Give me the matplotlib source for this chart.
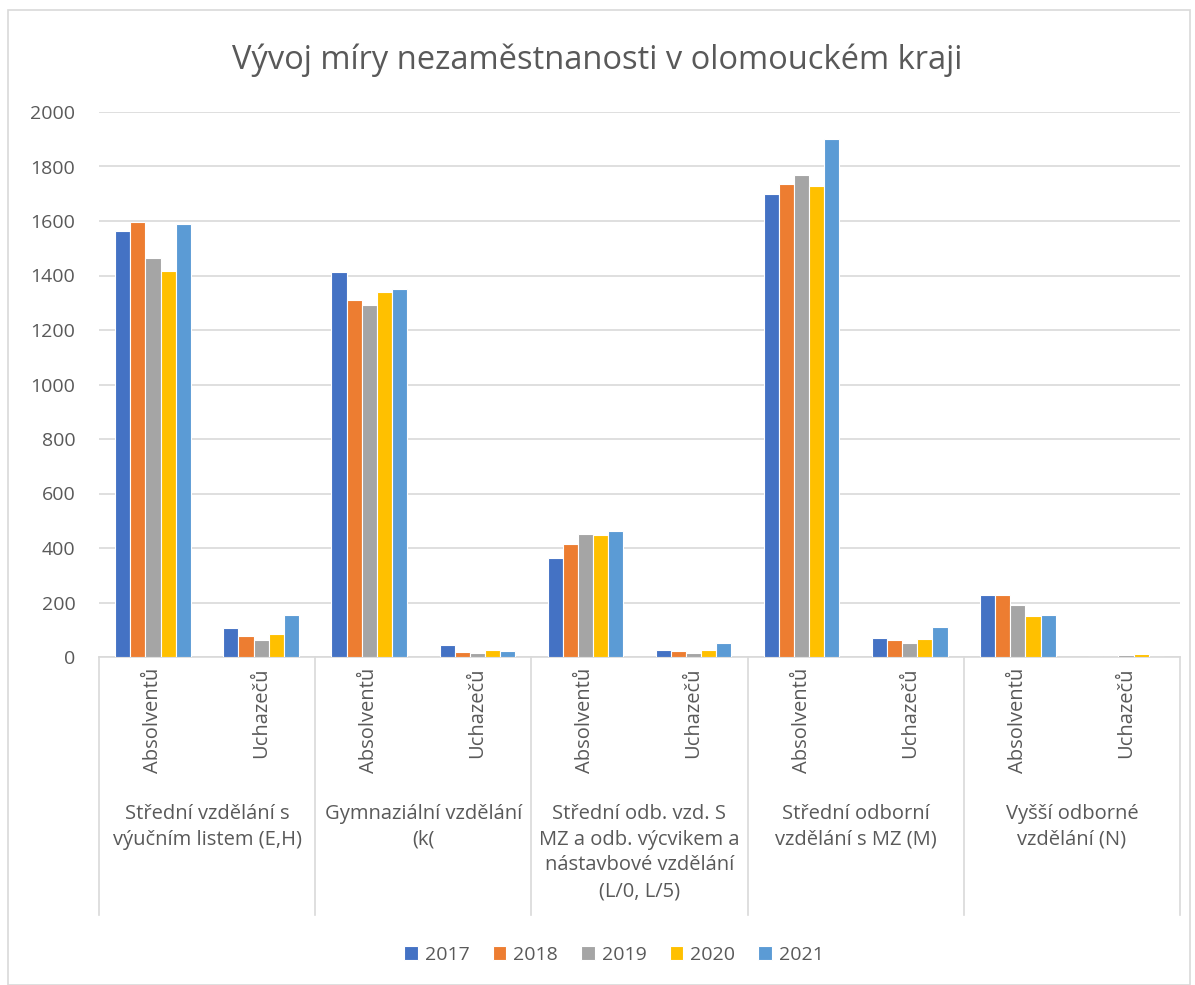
import matplotlib
matplotlib.use("Agg")
import matplotlib.pyplot as plt
from matplotlib.patches import Rectangle
from matplotlib.transforms import blended_transform_factory
import numpy as np

plt.rcParams['font.family'] = ['Open Sans', 'DejaVu Sans']

title = "Vývoj míry nezaměstnanosti v olomouckém kraji"
groups = ["Střední vzdělání s\nvýučním listem (E,H)",
          "Gymnaziální vzdělání\n(k(",
          "Střední odb. vzd. S\nMZ a odb. výcvikem a\nnástavbové vzdělání\n(L/0, L/5)",
          "Střední odborní\nvzdělání s MZ (M)",
          "Vyšší odborné\nvzdělání (N)"]
subcats = ["Absolventů", "Uchazečů"]
years = ["2017", "2018", "2019", "2020", "2021"]
colors = ["#4472C4", "#ED7D31", "#A5A5A5", "#FFC000", "#5B9BD5"]

v2017 = [1564, 105, 1412, 44, 362, 24, 1700, 71, 226, 0]
v2018 = [1596, 77, 1309, 18, 415, 21, 1736, 62, 227, 0]
v2019 = [1464, 64, 1292, 16, 453, 15, 1770, 51, 192, 7]
v2020 = [1415, 84, 1338, 27, 448, 27, 1728, 66, 149, 11]
v2021 = [1588, 153, 1350, 22, 463, 53, 1900, 109, 154, 0]
series = [v2017, v2018, v2019, v2020, v2021]

W, H = 1195, 985
fig = plt.figure(figsize=(W/100, H/100), dpi=100)
left, right, top, bottom = 99, 1180, 112, 657
ax = fig.add_axes([left/W, 1-bottom/H, (right-left)/W, (bottom-top)/H])

n = len(v2017)
x = np.arange(n)
bw = 0.14
for i, (vals, c, yr) in enumerate(zip(series, colors, years)):
    ax.bar(x + (i-2)*bw, vals, width=bw, color=c, edgecolor='white', linewidth=0.8, label=yr, zorder=3)

ax.set_xlim(-0.5, n-0.5)
ax.set_ylim(0, 2000)
ax.set_yticks(np.arange(0, 2001, 200))
ax.yaxis.grid(True, color='#D9D9D9', linewidth=1.2, zorder=0)
ax.set_axisbelow(True)
for s in ['top', 'right', 'left']:
    ax.spines[s].set_visible(False)
ax.spines['bottom'].set_color('#D9D9D9')
ax.spines['bottom'].set_linewidth(1.2)
ax.tick_params(axis='y', length=0, labelsize=14, labelcolor='#595959', pad=17)
ax.tick_params(axis='x', length=0, labelbottom=False)

# multi-level category labels
trans = blended_transform_factory(ax.transData, ax.transAxes)
ax_h = bottom - top
def yfrac(py):
    return (bottom - py) / ax_h

for xi in range(n):
    ax.text(xi, yfrac(668), subcats[xi % 2], rotation=90, ha='center', va='top',
            fontsize=14.5, color='#595959', transform=trans)
for g, lab in enumerate(groups):
    ax.text(2*g + 0.5, yfrac(804), lab, ha='center', va='top', fontsize=14.5,
            color='#595959', transform=trans, linespacing=1.38)
for b in np.arange(-0.5, n, 2):
    ax.plot([b, b], [0, yfrac(915)], transform=trans, color='#D9D9D9',
            linewidth=1.2, clip_on=False)

fig.text(0.5, 1-60/H, title, ha='center', va='center', fontsize=23.5, color='#595959')

leg = fig.legend(loc='center', bbox_to_anchor=(614/W, 1-955/H), ncol=5, frameon=False,
                 fontsize=14, handlelength=0.7, handleheight=0.7, columnspacing=1.2,
                 handletextpad=0.35)
for t in leg.get_texts():
    t.set_color('#595959')

fig.patches.append(Rectangle((8/W, 0), (1190-8)/W, 1-10/H, transform=fig.transFigure,
                             fill=False, edgecolor='#D9D9D9', linewidth=1.2))

fig.savefig("out.png", dpi=100)
